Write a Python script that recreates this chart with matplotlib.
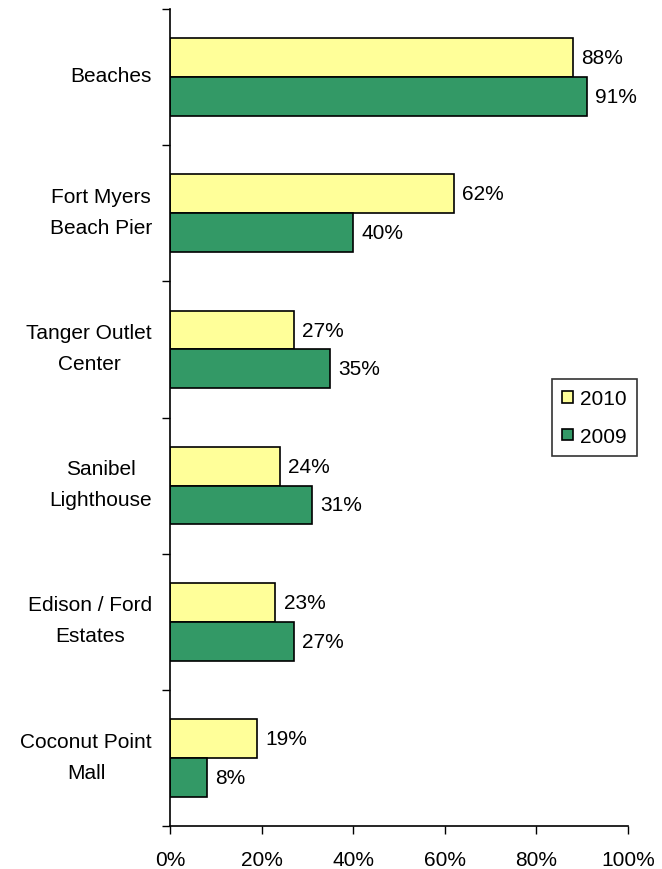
import matplotlib
matplotlib.use('Agg')
from matplotlib import pyplot as plt
import numpy as np

categories = ["Beaches", "Fort Myers\nBeach Pier", "Tanger Outlet\nCenter",
              "Sanibel\nLighthouse", "Edison / Ford\nEstates", "Coconut Point\nMall"]
vals_2010 = [88, 62, 27, 24, 23, 19]
vals_2009 = [91, 40, 35, 31, 27, 8]
xticks = [0, 20, 40, 60, 80, 100]

plt.rcParams['font.family'] = ['Liberation Sans', 'DejaVu Sans']
plt.rcParams['font.size'] = 15

fig = plt.figure(figsize=(6.62, 8.70), dpi=100)
ax = fig.add_axes([170/662, 43/870, 458/662, 817/870])

n = len(categories)
y = np.arange(n)[::-1].astype(float)
h = 0.285

b1 = ax.barh(y + h/2, vals_2010, height=h, color='#FFFF99', edgecolor='black', linewidth=1.2, label='2010')
b2 = ax.barh(y - h/2, vals_2009, height=h, color='#339966', edgecolor='black', linewidth=1.2, label='2009')

for bars, vals in [(b1, vals_2010), (b2, vals_2009)]:
    for bar, v in zip(bars, vals):
        ax.annotate("%d%%" % v, xy=(v, bar.get_y() + bar.get_height()/2),
                    xytext=(6, 0), textcoords='offset points', va='center', ha='left')

ax.set_xlim(0, 100)
ax.set_ylim(-0.5, n - 0.5)
ax.set_xticks(xticks)
ax.set_xticklabels(["%d%%" % t for t in xticks])

# category labels, a little above the middle of each group like the original
ax.set_yticks([])
for yi, name in zip(y, categories):
    ax.annotate(name, xy=(0, yi), xycoords=('axes fraction', 'data'),
                xytext=(-13, 1), textcoords='offset points',
                ha='right', va='center', multialignment='center', linespacing=1.8)
ax.set_yticks(np.arange(-0.5, n, 1.0), minor=True)
ax.tick_params(axis='y', which='minor', length=6, width=1, direction='out')
ax.tick_params(axis='x', length=6, width=1, direction='out', pad=11)

for s in ['top', 'right']:
    ax.spines[s].set_visible(False)
for s in ['left', 'bottom']:
    ax.spines[s].set_linewidth(1.2)

leg = ax.legend(loc='center', bbox_to_anchor=(0.927, 0.5), frameon=True, fancybox=False,
                edgecolor='black', handlelength=0.5, handleheight=0.5, handletextpad=0.35,
                borderpad=0.5, labelspacing=0.9, borderaxespad=0)
leg.get_frame().set_linewidth(1.2)

fig.savefig('out.png', dpi=100)
